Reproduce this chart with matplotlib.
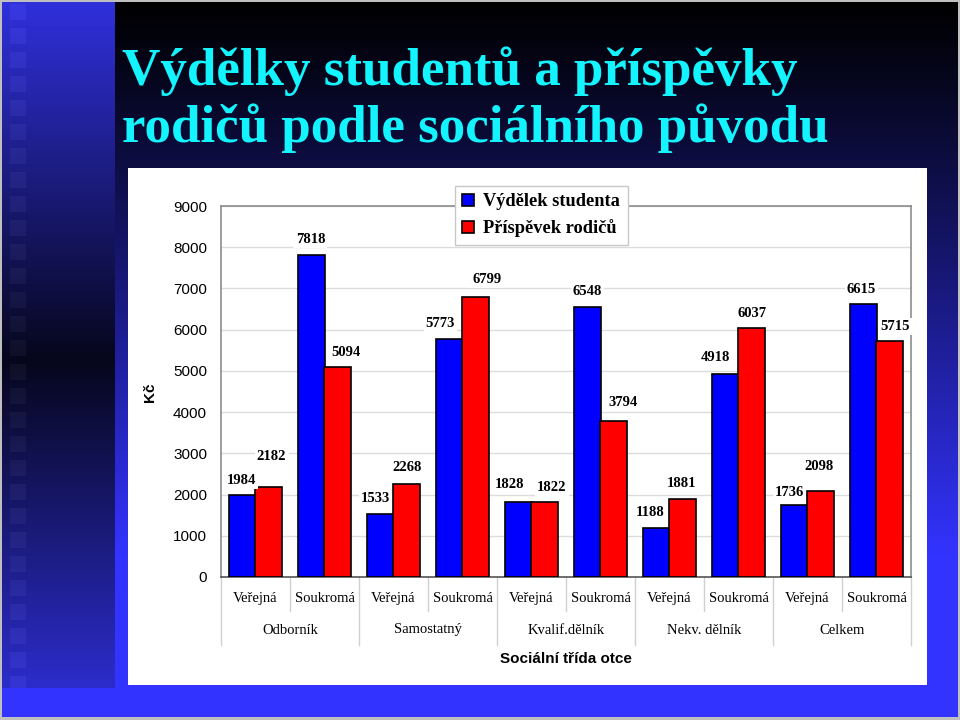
import matplotlib
matplotlib.use("Agg")
import matplotlib.pyplot as plt
from matplotlib.patches import Rectangle
from matplotlib.lines import Line2D
import numpy as np

# data
categories = ["Veřejná", "Soukromá"] * 5
groups = ["Odborník", "Samostatný", "Kvalif.dělník", "Nekv. dělník", "Celkem"]
student = [1984, 7818, 1533, 5773, 1828, 6548, 1188, 4918, 1736, 6615]
parents = [2182, 5094, 2268, 6799, 1822, 3794, 1881, 6037, 2098, 5715]
series_names = ["Výdělek studenta", "Příspěvek rodičů"]
yticks = [0, 1000, 2000, 3000, 4000, 5000, 6000, 7000, 8000, 9000]

# value label nudges in pixels (dx, dy above bar top)
student_off = [(-1, 15), (-1, 15), (-5, 15), (-9, 16), (-9, 17),
               (0, 16), (-6, 16), (-10, 17), (-5, 13), (-2, 15)]
parents_off = [(3, 31), (8, 15), (0, 16), (11, 17), (7, 14),
               (9, 18), (-1, 16), (0, 15), (-2, 24), (5, 15)]

SERIF = "Liberation Serif"
SANS = "Liberation Sans"
W, H = 960, 720

fig = plt.figure(figsize=(W / 100, H / 100), dpi=100)

# --- slide background -------------------------------------------------
bg = fig.add_axes([0, 0, 1, 1], zorder=-5)
bg.axis("off")
yy, xx = np.mgrid[0:H, 0:W].astype(float)
blue = np.array([51, 51, 255]) / 255.0
f = np.clip(yy / H * 1.3, 0, 1) ** 1.1
img = f[..., None] * blue
# left strip: bright - black - bright
strip = xx < 115
g = np.abs(yy - 360) / 360.0
g = 0.12 + 0.82 * g
img[strip] = (g[strip][:, None] * np.array([51, 51, 235]) / 255.0)
# faint squares down the strip
for y0 in range(4, H, 24):
    sq = (xx >= 10) & (xx < 26) & (yy >= y0) & (yy < y0 + 16)
    img[sq] = np.clip(img[sq] + 0.035, 0, 1)
img[yy >= 688] = blue
img[(xx < 2) | (yy < 2) | (xx >= W - 2) | (yy >= H - 3)] = 0.75
bg.imshow(img, extent=(0, W, H, 0), aspect="auto", interpolation="bilinear")
bg.add_patch(Rectangle((128, 168), 799, 517, facecolor="white", edgecolor="none"))
bg.set_xlim(0, W)
bg.set_ylim(H, 0)

# --- title ------------------------------------------------------------
fig.text(122 / W, 1 - 85 / H, "Výdělky studentů a příspěvky", fontsize=38.2,
         family=SERIF, fontweight="bold", color="#14f4ff", va="baseline")
fig.text(122 / W, 1 - 142 / H, "rodičů podle sociálního původu", fontsize=38.2,
         family=SERIF, fontweight="bold", color="#14f4ff", va="baseline")

# --- chart ------------------------------------------------------------
ax = fig.add_axes([221 / W, 1 - 577 / H, 690 / W, 371 / H])
x = np.arange(len(categories))
w = 0.385
b1 = ax.bar(x - 0.19, student, w, color="#0000ff", edgecolor="black", lw=1.2,
            label=series_names[0], zorder=3)
b2 = ax.bar(x + 0.19, parents, w, color="#ff0000", edgecolor="black", lw=1.2,
            label=series_names[1], zorder=3)

for bars, vals, offs in ((b1, student, student_off), (b2, parents, parents_off)):
    for r, v, (dx, dy) in zip(bars, vals, offs):
        ax.annotate(str(v), (r.get_x() + r.get_width() / 2, v),
                    xytext=(dx, dy), textcoords="offset pixels",
                    ha="center", va="center", fontsize=10.5, family=SERIF,
                    fontweight="bold", zorder=4,
                    bbox=dict(boxstyle="square,pad=0.15", fc="white", ec="none"))

ax.set_xlim(-0.5, len(categories) - 0.5)
ax.set_ylim(0, 9000)
ax.set_yticks(yticks)
ax.yaxis.grid(True, color="#dcdcdc", lw=1)
ax.set_axisbelow(True)
ax.tick_params(axis="y", length=0, pad=10, labelsize=11)
for lab in ax.get_yticklabels():
    lab.set_family(SANS)
ax.set_xticks(x, categories)
ax.tick_params(axis="x", length=0, pad=11, labelsize=10.5)
for lab in ax.get_xticklabels():
    lab.set_family(SERIF)
for s in ("top", "right", "left"):
    ax.spines[s].set_color("#8c8c8c")
    ax.spines[s].set_linewidth(1.2)
ax.spines["bottom"].set_color("#555555")
ax.spines["bottom"].set_linewidth(1.2)

# second level of category axis
trans = ax.get_xaxis_transform()
axh = 371.0
for i, gname in enumerate(groups):
    ax.text(2 * i + 0.5, -53 / axh, gname, transform=trans, ha="center",
            va="center", fontsize=10.5, family=SERIF, clip_on=False)
for k in range(len(categories) + 1):
    bottom = -68 / axh if k % 2 == 0 else -34 / axh
    ax.add_line(Line2D([k - 0.5, k - 0.5], [0, bottom], transform=trans,
                       color="#d0d0d0", lw=1, clip_on=False))

fig.text(150 / W, 1 - 392 / H, "Kč", rotation=90, ha="center", va="center",
         fontsize=11, family=SANS, fontweight="bold")
fig.text(566 / W, 1 - 659 / H, "Sociální třída otce", ha="center", va="center",
         fontsize=11, family=SANS, fontweight="bold")

leg = fig.legend(handles=[b1, b2], loc="upper left",
                 bbox_to_anchor=(455 / W, 1 - 186 / H),
                 prop=dict(family=SERIF, weight="bold", size=13.2),
                 fancybox=False, framealpha=1, edgecolor="#c8c8c8",
                 handlelength=0.65, handleheight=0.65, handletextpad=0.5,
                 borderpad=0.4, labelspacing=0.5, borderaxespad=0)
leg.get_frame().set_linewidth(1)
leg.set_zorder(10)

fig.savefig("out.png", dpi=100)
